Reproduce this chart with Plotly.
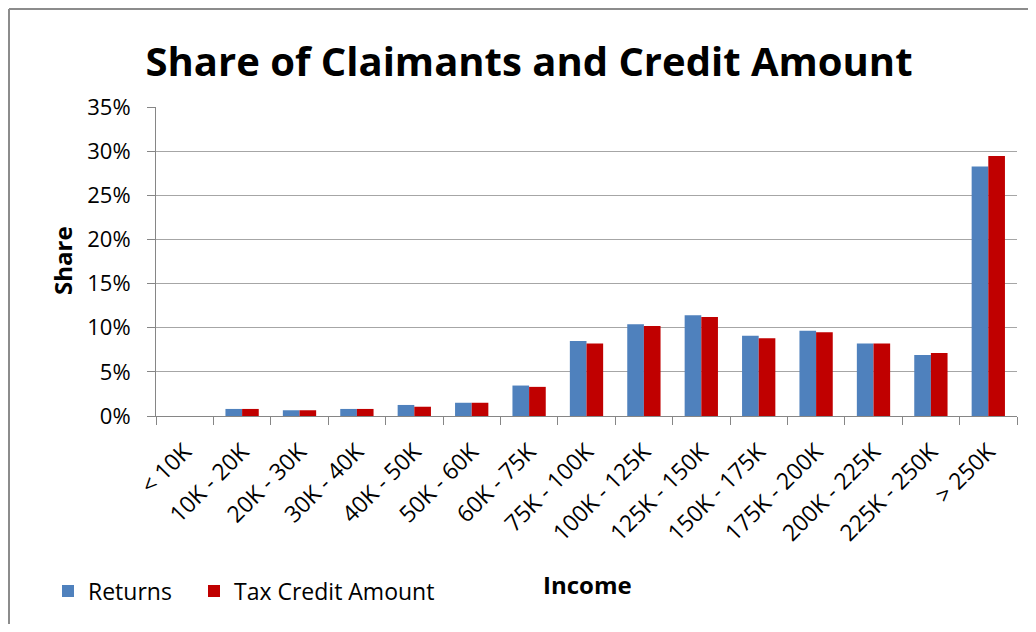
import plotly.graph_objects as go

categories = ["< 10K", "10K - 20K", "20K - 30K", "30K - 40K", "40K - 50K", "50K - 60K",
              "60K - 75K", "75K - 100K", "100K - 125K", "125K - 150K", "150K - 175K",
              "175K - 200K", "200K - 225K", "225K - 250K", "> 250K"]
returns = [0.000, 0.008, 0.0065, 0.008, 0.0125, 0.015, 0.0345, 0.085, 0.104, 0.114,
           0.091, 0.0965, 0.082, 0.069, 0.2825]
credit = [0.000, 0.008, 0.0065, 0.008, 0.0105, 0.015, 0.033, 0.082, 0.102, 0.112,
          0.088, 0.095, 0.082, 0.0715, 0.2945]
y_ticks = [0, 0.05, 0.10, 0.15, 0.20, 0.25, 0.30, 0.35]

FONT = "Open Sans"
OFF = 8                      # page body margin
W, H = 1036 - 2 * OFF, 632 - 2 * OFF
PL, PR, PT, PB = 156, 1017, 107, 416   # plot area in screen pixels
L, R, T, B = PL - OFF, (W + OFF) - PR, PT - OFF, (H + OFF) - PB
pw, ph = PR - PL, PB - PT

def px(x):
    return (x - PL) / pw

def py(y):
    return (PB - y) / ph

fig = go.Figure()
fig.add_trace(go.Bar(name="Returns", x=categories, y=returns, legend="legend",
                     marker=dict(color="#4F81BD", line=dict(width=0))))
fig.add_trace(go.Bar(name="Tax Credit Amount", x=categories, y=credit, legend="legend2",
                     marker=dict(color="#C00000", line=dict(width=0))))

leg_common = dict(orientation="h", xanchor="left", y=py(591), yanchor="middle",
                  font=dict(family=FONT, size=23, color="#000000"),
                  bgcolor="rgba(0,0,0,0)", itemwidth=30)

fig.update_layout(
    width=W, height=H,
    margin=dict(l=L, r=R, t=T, b=B),
    paper_bgcolor="white", plot_bgcolor="white",
    barmode="group", bargap=0.42, bargroupgap=0,
    font=dict(family=FONT, color="#000000"),
    title=dict(text="<b>Share of Claimants and Credit Amount</b>",
               font=dict(family=FONT, size=40, color="#000000"),
               xref="paper", x=px(529), xanchor="center",
               yref="container", y=1 - (62 - OFF) / H, yanchor="middle"),
    xaxis=dict(type="category", showgrid=False, showline=True, linecolor="#868686", linewidth=1,
               ticks="outside", tickson="boundaries", ticklen=8, tickcolor="#868686",
               tickangle=-45, ticklabelstandoff=12,
               tickfont=dict(family=FONT, size=23, color="#000000")),
    yaxis=dict(range=[0, 0.35], tickvals=y_ticks, tickformat=".0%",
               showgrid=True, gridcolor="#A6A6A6", gridwidth=1,
               showline=True, linecolor="#868686", linewidth=1,
               ticks="outside", ticklen=8, tickcolor="#868686", zeroline=False,
               ticklabelstandoff=12,
               tickfont=dict(family=FONT, size=22, color="#000000")),
    legend=dict(x=px(48), **leg_common),
    legend2=dict(x=px(194), **leg_common),
    showlegend=True,
    annotations=[
        dict(text="<b>Share</b>", xref="paper", yref="paper", x=px(62), y=py(261),
             textangle=-90, showarrow=False, font=dict(family=FONT, size=24, color="#000000"),
             xanchor="center", yanchor="middle"),
        dict(text="<b>Income</b>", xref="paper", yref="paper", x=px(587), y=py(584),
             showarrow=False, font=dict(family=FONT, size=24, color="#000000"),
             xanchor="center", yanchor="middle"),
    ],
    shapes=[
        dict(type="line", xref="paper", yref="paper", x0=px(9), x1=px(9), y0=py(640), y1=py(9),
             line=dict(color="#8C8C8C", width=2)),
        dict(type="line", xref="paper", yref="paper", x0=px(9), x1=px(1040), y0=py(9), y1=py(9),
             line=dict(color="#8C8C8C", width=2)),
    ],
)

fig.write_html("out.html")
